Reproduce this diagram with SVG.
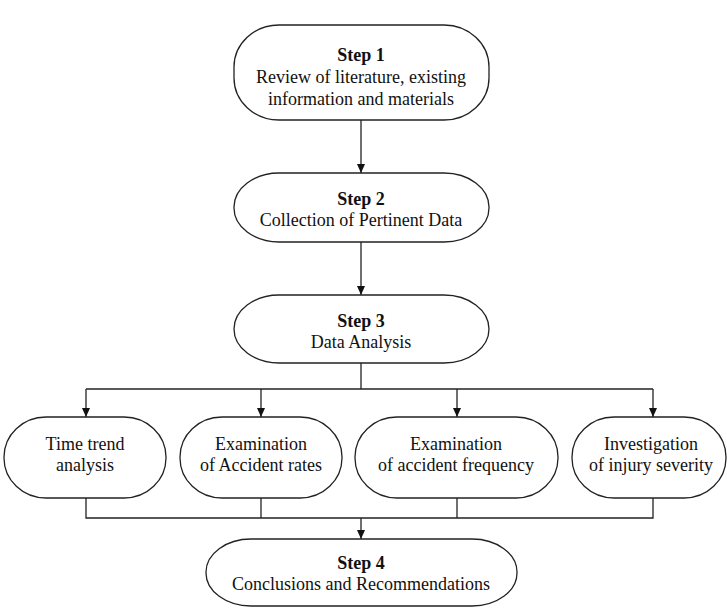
<svg xmlns="http://www.w3.org/2000/svg" width="727" height="608" viewBox="0 0 727 608">
<style>
.box{fill:#fff;stroke:#222;stroke-width:1.3}
.ln{fill:none;stroke:#222;stroke-width:1.3}
.t{font-family:'Liberation Serif','Times New Roman',serif;font-size:18px;fill:#111;text-anchor:middle}
.b{font-weight:bold}
</style>
<defs>
<marker id="ah" markerWidth="10" markerHeight="10" refX="9" refY="5" orient="auto" markerUnits="userSpaceOnUse">
<path d="M0,1 L9,5 L0,9 Z" fill="#111"/>
</marker>
</defs>
<rect width="727" height="608" fill="#fff"/>
<g id="connectors">
<line class="ln" x1="361" y1="120" x2="361" y2="173" marker-end="url(#ah)"/>
<line class="ln" x1="361" y1="242" x2="361" y2="295" marker-end="url(#ah)"/>
<polyline class="ln" points="361,363 361,389"/>
<polyline class="ln" points="86,389 653,389"/>
<line class="ln" x1="86" y1="389" x2="86" y2="417" marker-end="url(#ah)"/>
<line class="ln" x1="261" y1="389" x2="261" y2="417" marker-end="url(#ah)"/>
<line class="ln" x1="457" y1="389" x2="457" y2="417" marker-end="url(#ah)"/>
<line class="ln" x1="653" y1="389" x2="653" y2="417" marker-end="url(#ah)"/>
<polyline class="ln" points="86,498 86,518 653,518 653,498"/>
<line class="ln" x1="261" y1="498" x2="261" y2="518"/>
<line class="ln" x1="457" y1="498" x2="457" y2="518"/>
<line class="ln" x1="361" y1="518" x2="361" y2="539" marker-end="url(#ah)"/>
</g>
<g id="step1">
<rect class="box" x="234" y="25" width="255" height="95" rx="45" ry="42"/>
<text class="t b" x="361" y="61">Step 1</text>
<text class="t" x="361" y="83">Review of literature, existing</text>
<text class="t" x="361" y="105">information and materials</text>
</g>
<g id="step2">
<rect class="box" x="234" y="173" width="255" height="69" rx="45" ry="34"/>
<text class="t b" x="361" y="205">Step 2</text>
<text class="t" x="361" y="226">Collection of Pertinent Data</text>
</g>
<g id="step3">
<rect class="box" x="234" y="295" width="255" height="68" rx="45" ry="34"/>
<text class="t b" x="361" y="327">Step 3</text>
<text class="t" x="361" y="348">Data Analysis</text>
</g>
<g id="time-trend">
<rect class="box" x="4" y="417" width="162" height="81" rx="42" ry="40"/>
<text class="t" x="85" y="450">Time trend</text>
<text class="t" x="85" y="471">analysis</text>
</g>
<g id="accident-rates">
<rect class="box" x="180" y="417" width="162" height="81" rx="42" ry="40"/>
<text class="t" x="261" y="450">Examination</text>
<text class="t" x="261" y="471">of Accident rates</text>
</g>
<g id="accident-frequency">
<rect class="box" x="355" y="417" width="203" height="81" rx="42" ry="40"/>
<text class="t" x="456" y="450">Examination</text>
<text class="t" x="456" y="471">of accident frequency</text>
</g>
<g id="injury-severity">
<rect class="box" x="572" y="417" width="154" height="81" rx="42" ry="40"/>
<text class="t" x="651" y="450">Investigation</text>
<text class="t" x="651" y="471">of injury severity</text>
</g>
<g id="step4">
<rect class="box" x="206" y="539" width="311" height="67" rx="45" ry="33"/>
<text class="t b" x="361" y="569">Step 4</text>
<text class="t" x="361" y="590">Conclusions and Recommendations</text>
</g>
</svg>
